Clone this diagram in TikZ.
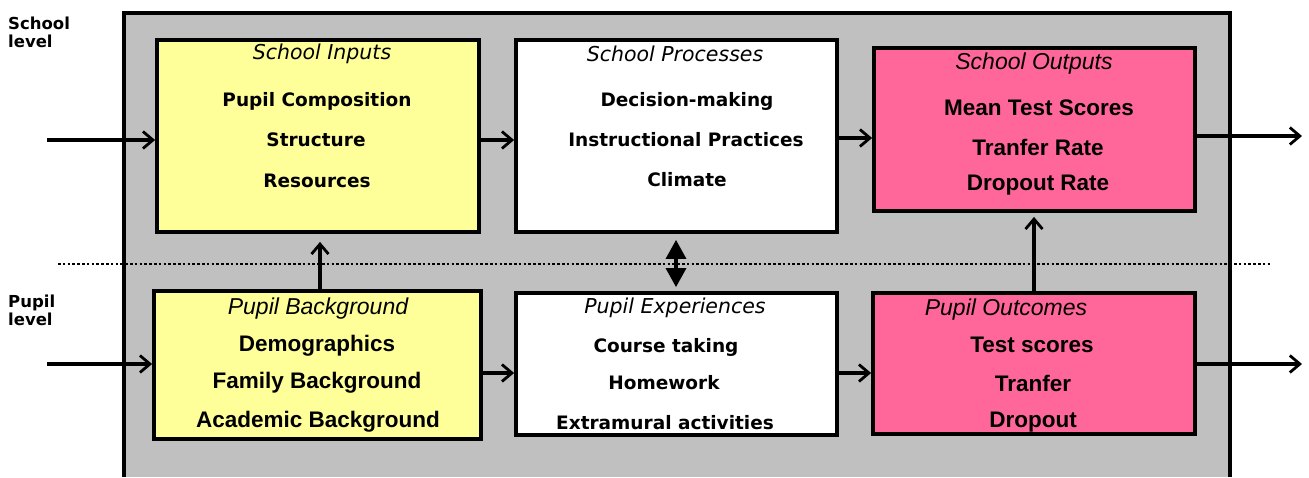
\documentclass[tikz,border=0pt]{standalone}
\usepackage{fontspec}
\usetikzlibrary{arrows.meta}
\newfontfamily\vfont{DejaVu Sans}
\newfontfamily\afont{Liberation Sans}
\definecolor{boxyellow}{HTML}{FFFF99}
\definecolor{boxpink}{HTML}{FF6699}
\definecolor{panelgray}{HTML}{C0C0C0}
\tikzset{
  box/.style={draw=black, line width=3.8pt, inner sep=0pt},
  vtitle/.style={inner sep=0pt, font=\vfont\itshape\fontsize{20.5}{24}\selectfont},
  vitem/.style={inner sep=0pt, font=\vfont\bfseries\fontsize{18.5}{22}\selectfont},
  atitle/.style={inner sep=0pt, font=\afont\itshape\fontsize{23}{27}\selectfont},
  aitem/.style={inner sep=0pt, font=\afont\bfseries\fontsize{22.5}{26}\selectfont},
  lvl/.style={inner sep=0pt, align=left, anchor=west, font=\vfont\bfseries\fontsize{16.5}{20}\selectfont},
  arr/.style={line width=3.2pt, -{Straight Barb[length=10pt,width=17pt,line width=2.8pt]}},
  dbl/.style={line width=3.4pt, {Triangle[length=19pt,width=20pt]}-{Triangle[length=19pt,width=20pt]}}
}
\begin{document}
\begin{tikzpicture}[x=1pt,y=-1pt]
\useasboundingbox (0,0) rectangle (1309,477);
% panel
\fill[panelgray] (124,13) rectangle (1230,477);
\draw[line width=3.2pt] (124,477) -- (124,13) -- (1230,13) -- (1230,477);
% dotted divider
\draw[line width=2.8pt, dash pattern=on 2.6pt off 2.2pt] (58,264) -- (1270,264);
% level labels
\node[lvl] (lschool) at (8,32) {School\\[-2pt]level};
\node[lvl] (lpupil) at (8,310) {Pupil\\[-2pt]level};
% boxes
\node[box, fill=boxyellow, minimum width=322pt, minimum height=192pt] (si) at (318,136) {};
\node[box, fill=white, minimum width=321pt, minimum height=192pt] (sp) at (676.5,136) {};
\node[box, fill=boxpink, minimum width=321pt, minimum height=163pt] (so) at (1034.5,129.5) {};
\node[box, fill=boxyellow, minimum width=327pt, minimum height=148pt] (pb) at (317.5,365) {};
\node[box, fill=white, minimum width=321pt, minimum height=142pt] (pe) at (676.5,364) {};
\node[box, fill=boxpink, minimum width=322pt, minimum height=141pt] (po) at (1034,363.5) {};
% texts: school inputs
\node[vtitle] (sit) at (322,54) {School Inputs};
\node[vitem] (si1) at (317,101) {Pupil Composition};
\node[vitem] (si2) at (316,140) {Structure};
\node[vitem] (si3) at (317,181) {Resources};
% school processes
\node[vtitle] (spt) at (675,54) {School Processes};
\node[vitem] (sp1) at (687,101) {Decision-making};
\node[vitem] (sp2) at (686,140) {Instructional Practices};
\node[vitem] (sp3) at (687,180) {Climate};
% school outputs
\node[atitle] (sot) at (1034,64) {School Outputs};
\node[aitem] (so1) at (1039,108) {Mean Test Scores};
\node[aitem] (so2) at (1038,147) {Tranfer Rate};
\node[aitem] (so3) at (1038,185) {Dropout Rate};
% pupil background
\node[atitle] (pbt) at (318,309) {Pupil Background};
\node[aitem] (pb1) at (317,346) {Demographics};
\node[aitem] (pb2) at (317,383) {Family Background};
\node[aitem] (pb3) at (318,422) {Academic Background};
% pupil experiences
\node[vtitle] (pet) at (675,308) {Pupil Experiences};
\node[vitem] (pe1) at (666,347) {Course taking};
\node[vitem] (pe2) at (664,383) {Homework};
\node[vitem] (pe3) at (665,423) {Extramural activities};
% pupil outcomes
\node[atitle] (pot) at (1006,310) {Pupil Outcomes};
\node[aitem] (po1) at (1032,345) {Test scores};
\node[aitem] (po2) at (1033,383) {Tranfer};
\node[aitem] (po3) at (1033,422) {Dropout};
% free ends
\coordinate (inS) at (47,140);
\coordinate (inP) at (47,364);
\coordinate (outS) at (1302,136);
\coordinate (outP) at (1302,364);
% connectors
\draw[arr] (inS) -- (si.west |- inS);
\draw[arr] (inP) -- (pb.west |- inP);
\draw[arr] ([yshift=-4pt]si.east) -- ([yshift=-4pt]sp.west);
\draw[arr] ([yshift=-2pt]sp.east) -- (so.west |- 0,138);
\draw[arr] (so.east |- outS) -- (outS);
\draw[arr] (po.east |- outP) -- (outP);
\draw[arr] (pb.east |- 0,373) -- (pe.west |- 0,373);
\draw[arr] (pe.east |- 0,373) -- (po.west |- 0,373);
\draw[arr, shorten >=8pt] (pb.north -| 320,0) -- (si.south -| 320,0);
\draw[arr, shorten >=4pt] (po.north -| 1034,0) -- (so.south -| 1034,0);
\draw[dbl, shorten >=4pt, shorten <=6pt] (sp.south -| 676,0) -- (pe.north -| 676,0);
\end{tikzpicture}
\end{document}
